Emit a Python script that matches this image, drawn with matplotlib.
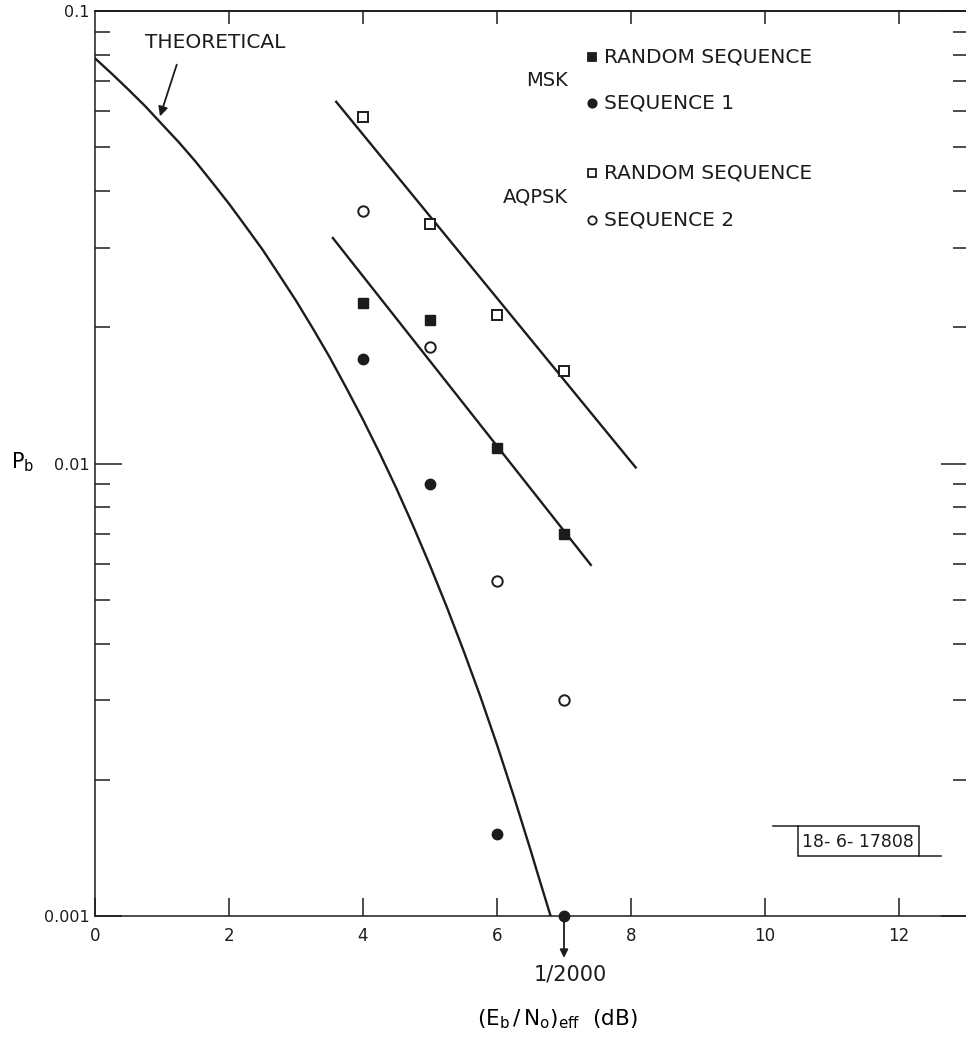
import matplotlib
matplotlib.use('Agg')
import matplotlib.pyplot as plt
import matplotlib.transforms as mtransforms
from matplotlib.patches import Rectangle
from matplotlib.lines import Line2D

# theoretical curve, values
theory_snr = [0, 0.25, 0.5, 0.75, 1, 1.25, 1.5, 1.75, 2, 2.25, 2.5, 2.75, 3, 3.25,
              3.5, 3.75, 4, 4.25, 4.5, 4.75, 5, 5.25, 5.5, 5.75, 6, 6.25, 6.5, 6.6, 6.8]
theory_pb = [0.0786, 0.0727, 0.0670, 0.0616, 0.0562, 0.0513, 0.0465, 0.0418, 0.0375,
             0.0334, 0.0297, 0.0261, 0.0229, 0.0199, 0.0172, 0.0147, 0.0125, 0.01053,
             0.0088, 0.00727, 0.00595, 0.00482, 0.00386, 0.00306, 0.00239, 0.00184,
             0.0014, 0.00125, 0.001]

# measured points
snr = [4, 5, 6, 7]
msk_random = [0.0226, 0.0208, 0.0108, 0.0070]
msk_seq1 = [0.0170, 0.0090, 0.00152, 0.001]
aqpsk_random = [0.0582, 0.0339, 0.0213, 0.0160]
aqpsk_seq2 = [0.0362, 0.0181, 0.0055, 0.0030]

# hand drawn fit lines (end points)
msk_fit_x = [3.55, 7.40]
msk_fit_y = [0.0315, 0.00597]
aqpsk_fit_x = [3.60, 8.07]
aqpsk_fit_y = [0.063, 0.0098]

xticks = [0, 2, 4, 6, 8, 10, 12]
yticks = [0.001, 0.01, 0.1]
ytick_labels = ['0.001', '0.01', '0.1']

ink = '#1c1c1c'
plt.rcParams['font.family'] = 'DejaVu Sans'
plt.rcParams['text.color'] = ink

W, H = 966, 1046
fig = plt.figure(figsize=(W / 100, H / 100), dpi=100)
# pixel coords measured from the top-left corner
px = mtransforms.Affine2D().scale(1 / W, -1 / H).translate(0, 1) + fig.transFigure

left, right, top, bottom = 95, 968, 11, 916
ax = fig.add_axes([left / W, (H - bottom) / H, (right - left) / W, (bottom - top) / H])
ax.set_yscale('log')
ax.set_xlim(0, (right - left) / 67.0)
ax.set_ylim(0.001, 0.1)

for s in ax.spines.values():
    s.set_linewidth(1.1)
    s.set_color(ink)

ax.plot(theory_snr, theory_pb, color=ink, lw=1.7, solid_joinstyle='round')
ax.plot(msk_fit_x, msk_fit_y, color=ink, lw=1.7)
ax.plot(aqpsk_fit_x, aqpsk_fit_y, color=ink, lw=1.7)

ax.plot(snr, msk_random, 's', color=ink, ms=7.5, ls='none', clip_on=False)
ax.plot(snr, msk_seq1, 'o', color=ink, ms=7.5, ls='none', clip_on=False)
ax.plot(snr, aqpsk_random, 's', mfc='white', mec=ink, mew=1.4, ms=7.5, ls='none', clip_on=False)
ax.plot(snr, aqpsk_seq2, 'o', mfc='white', mec=ink, mew=1.4, ms=7.5, ls='none', clip_on=False)

# ticks
ax.set_xticks(xticks)
ax.set_xticklabels([str(t) for t in xticks])
ax.set_yticks(yticks)
ax.set_yticklabels(ytick_labels)
ax.yaxis.set_minor_formatter(matplotlib.ticker.NullFormatter())
ax.tick_params(axis='x', which='major', direction='in', length=13, width=1.1,
               pad=8, labelsize=12, colors=ink)
ax.tick_params(axis='y', which='major', direction='in', length=19.5, width=1.1,
               pad=4, labelsize=11.5, colors=ink, left=True, right=True)
ax.tick_params(axis='y', which='minor', direction='in', length=10.8, width=1.1,
               left=True, right=True, colors=ink)
secx = ax.secondary_xaxis('top')
secx.set_xticks(xticks[1:])
secx.tick_params(direction='in', length=9.4, width=1.1, labeltop=False, colors=ink)
secx.spines['top'].set_linewidth(1.1)

ax.set_xlabel(r'$\mathregular{(E_b\,/\,N_o)_{eff}}$  (dB)', fontsize=15.5)
ax.xaxis.set_label_coords((557 - left) / (right - left), -(1019 - bottom) / (bottom - top))
ax.xaxis.label.set_va('center')
ax.set_ylabel(r'$\mathregular{P_b}$', fontsize=15, rotation=0)
ax.yaxis.set_label_coords((23 - left) / (right - left), (bottom - 462) / (bottom - top))
ax.yaxis.label.set_va('center')

# theoretical label
ax.text(215, 43, 'THEORETICAL', transform=px, fontsize=14.5, ha='center', va='center')
ax.annotate('', xy=(0.97, 0.0585), xytext=(1.22, 0.0761),
            arrowprops=dict(arrowstyle='-|>', color=ink, lw=1.3, mutation_scale=14,
                            shrinkA=0, shrinkB=0))

# 1/2000 marker below the axis
ax.annotate('', xy=(7, 0.000808), xytext=(7, 0.001), annotation_clip=False,
            arrowprops=dict(arrowstyle='-|>', color=ink, lw=1.3, mutation_scale=12,
                            shrinkA=0, shrinkB=0))
ax.text(570, 974, '1/2000', transform=px, fontsize=15, ha='center', va='center')

# legend
ax.text(568, 80, 'MSK', transform=px, fontsize=14, ha='right', va='center')
ax.text(568, 197, 'AQPSK', transform=px, fontsize=14, ha='right', va='center')
legend_rows = [
    (57, 's', ink, 'RANDOM SEQUENCE'),
    (103, 'o', ink, 'SEQUENCE 1'),
    (173, 's', 'white', 'RANDOM SEQUENCE'),
    (220, 'o', 'white', 'SEQUENCE 2'),
]
for y, m, fc, label in legend_rows:
    fig.add_artist(Line2D([592], [y], transform=px, marker=m, ms=6, mfc=fc,
                          mec=ink, mew=1.3, ls='none'))
    ax.text(604, y, label, transform=px, fontsize=14.5, ha='left', va='center')

# drawing number box
fig.add_artist(Rectangle((798, 826), 121, 30, transform=px, fill=False, ec=ink, lw=1.1))
fig.add_artist(Line2D([773, 798], [826, 826], transform=px, color=ink, lw=1.1))
fig.add_artist(Line2D([919, 941], [856, 856], transform=px, color=ink, lw=1.1))
ax.text(858, 842, '18- 6- 17808', transform=px, fontsize=12.5, ha='center', va='center')

fig.savefig('out.png', dpi=100, facecolor='white')
